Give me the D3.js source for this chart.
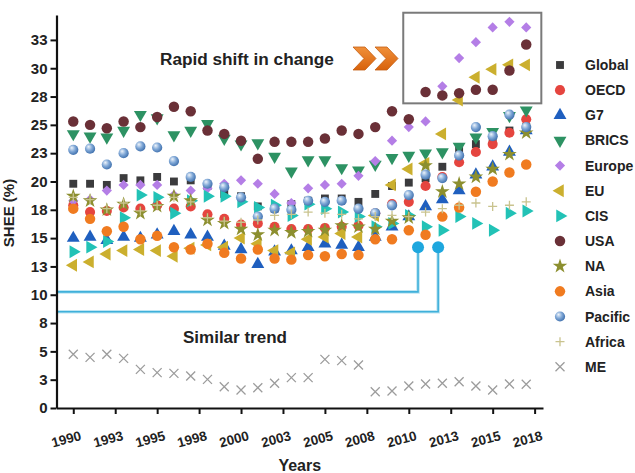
<!DOCTYPE html>
<html>
<head>
<meta charset="utf-8">
<script src="https://cdn.jsdelivr.net/npm/d3@7"></script>
<style>
  html, body { margin: 0; padding: 0; background: #fff; }
  svg { display: block; }
  text { font-family: "Liberation Sans", Arial, Helvetica, sans-serif; font-weight: bold; fill: #222; }
</style>
</head>
<body>
<svg id="chart" width="635" height="473"></svg>
<script>
// ---- data ---------------------------------------------------------------
const years = d3.range(1990, 2018);

const seriesNames = ["Global", "OECD", "G7", "BRICS", "Europe", "EU", "CIS", "USA", "NA", "Asia", "Pacific", "Africa", "ME"];

const globalVals  = [19.8, 19.8, 19.7, 20.3, 20.1, 20.4, 20.0, 20.1, 19.6, 18.9, 18.7, 17.8, 17.6, 18.0, 18.3, 18.5, 18.5, 18.2, 18.9, 19.6, 19.9, 20.3, 21.3, 22.7, 23.3, 23.5, 24.5, 24.8];
const oecdVals    = [17.9, 17.3, 17.4, 17.7, 17.6, 17.9, 17.6, 17.8, 17.1, 16.7, 16.2, 16.3, 16.0, 15.8, 15.8, 15.9, 16.0, 16.1, 17.2, 18.0, 18.2, 19.6, 20.4, 21.7, 22.6, 23.3, 24.3, 25.5];
const g7Vals      = [15.0, 15.1, 14.8, 15.1, 15.0, 15.3, 15.6, 15.3, 15.1, 14.3, 14.0, 12.7, 13.8, 13.9, 14.2, 14.5, 14.4, 14.2, 15.1, 16.0, 16.9, 17.8, 18.4, 19.2, 20.6, 21.3, 22.6, 24.5];
const bricsVals   = [24.2, 24.0, 23.9, 24.5, 25.9, 25.6, 24.1, 24.5, 25.1, 23.8, 23.3, 23.4, 22.2, 20.9, 21.9, 21.9, 21.2, 21.0, 21.5, 22.1, 22.3, 22.5, 22.6, 23.1, 23.9, 24.4, 25.8, 26.3];
const europeVals  = [18.3, 18.4, 19.2, 19.7, 19.7, 19.7, 18.8, 19.2, 19.4, 19.8, 20.1, 19.8, 18.9, 18.1, 19.4, 19.7, 19.8, 20.5, 21.8, 23.6, 24.8, 25.3, 28.4, 30.9, 32.3, 33.6, 34.1, 33.6];
const euVals      = [12.6, 12.9, 13.6, 13.9, 14.0, 13.9, 13.4, 14.1, 14.4, 14.2, 15.0, 14.5, 13.9, 13.7, 14.9, 15.1, 15.4, 15.1, 17.0, 19.7, 21.1, 21.6, 24.2, 27.2, 29.2, 29.9, 30.3, 30.3];
const cisVals     = [13.8, 14.2, 14.7, 16.8, 18.8, 18.6, 17.2, 18.3, 18.7, 18.7, 18.2, 17.7, 17.9, 17.0, 18.0, 17.6, 17.3, 16.9, 16.0, 16.3, 17.0, 16.0, 15.7, 16.9, 16.3, 15.7, 17.2, 17.4];
const usaVals     = [25.3, 25.0, 24.7, 25.3, 24.8, 25.7, 26.6, 26.2, 24.5, 24.2, 23.6, 22.0, 23.5, 23.5, 23.5, 23.8, 24.5, 24.2, 24.8, 26.2, 25.5, 27.9, 27.6, 27.8, 28.1, 28.1, 29.8, 32.1];
const naVals      = [18.7, 18.3, 17.5, 18.0, 17.2, 17.8, 18.7, 18.3, 16.6, 16.3, 15.8, 15.3, 15.7, 15.5, 15.6, 15.7, 16.1, 16.0, 15.8, 16.5, 16.8, 21.4, 19.1, 19.8, 20.4, 21.1, 22.4, 24.3];
const asiaVals    = [17.6, 16.7, 15.6, 16.0, 14.9, 15.2, 14.2, 14.0, 14.5, 13.7, 13.2, 14.0, 13.2, 13.1, 13.5, 13.4, 13.6, 13.5, 14.9, 14.9, 15.7, 15.3, 16.9, 17.7, 19.1, 20.0, 20.8, 21.5];
const pacificVals = [22.8, 22.9, 21.5, 22.5, 23.1, 23.0, 21.8, 20.4, 19.8, 19.5, 18.6, 16.9, 17.6, 17.5, 18.3, 18.2, 18.3, 17.6, 17.2, 17.9, 18.8, 20.6, 20.3, 22.3, 24.8, 24.0, 25.9, 24.8];
const africaVals  = [18.6, 18.4, 17.6, 18.1, 17.4, 17.9, 18.6, 18.2, 16.8, 16.5, 16.4, 16.6, 17.0, 17.1, 17.3, 17.2, 17.1, 16.7, 16.9, 17.0, 16.9, 17.3, 17.6, 17.9, 18.1, 17.8, 17.9, 18.2];
const meVals      = [4.74, 4.47, 4.74, 4.38, 3.41, 3.12, 3.06, 2.82, 2.53, 1.88, 1.59, 1.79, 2.18, 2.68, 2.68, 4.29, 4.18, 3.79, 1.44, 1.50, 1.94, 2.12, 2.18, 2.32, 1.94, 1.59, 2.12, 2.09];

const yTickValues = [0, 2.5, 5, 7.5, 10, 12.5, 15, 17.5, 20, 22.5, 25, 27.5, 30, 32.5];
const yTickLabels = ["0", "3", "5", "8", "10", "13", "15", "18", "20", "23", "25", "28", "30", "33"];
const xTickValues = [1990, 1992.5, 1995, 1997.5, 2000, 2002.5, 2005, 2007.5, 2010, 2012.5, 2015, 2017.5];
const xTickLabels = ["1990", "1993", "1995", "1998", "2000", "2003", "2005", "2008", "2010", "2013", "2015", "2018"];

// highlighted window and the two call-outs
const highlightYears = [2009.67, 2017.9];
const highlightRange = [26.9, 34.9];
const calloutYears = [2010.55, 2011.75];
const calloutLevels = [10.25, 8.5];
const calloutDot = 14.2;

// ---- styling per series ------------------------------------------------
const valuesByName = {
  Global: globalVals, OECD: oecdVals, G7: g7Vals, BRICS: bricsVals, Europe: europeVals,
  EU: euVals, CIS: cisVals, USA: usaVals, NA: naVals, Asia: asiaVals,
  Pacific: pacificVals, Africa: africaVals, ME: meVals
};

const style = {
  Global:  { type: d3.symbolSquare,   size: 62, rot: 0,   fill: "#3b3b3d" },
  OECD:    { type: d3.symbolCircle,   size: 80, rot: 0,   fill: "#e5453f" },
  G7:      { type: d3.symbolTriangle, size: 72, rot: 0,   fill: "#1f5fbf" },
  BRICS:   { type: d3.symbolTriangle, size: 72, rot: 180, fill: "#2d9263" },
  Europe:  { type: d3.symbolSquare,   size: 52, rot: 45,  fill: "#b47ee6" },
  EU:      { type: d3.symbolTriangle, size: 72, rot: -90, fill: "#cbaf2e" },
  CIS:     { type: d3.symbolTriangle, size: 72, rot: 90,  fill: "#22c2b6" },
  USA:     { type: d3.symbolCircle,   size: 86, rot: 0,   fill: "#6a3037" },
  NA:      { type: d3.symbolStar,     size: 66, rot: 0,   fill: "#8c8f2f" },
  Asia:    { type: d3.symbolCircle,   size: 86, rot: 0,   fill: "#f07b20" },
  Pacific: { type: d3.symbolCircle,   size: 82, rot: 0,   fill: "url(#pacificGrad)" },
  Africa:  { type: "plus",  stroke: "#c9c38e" },
  ME:      { type: "cross", stroke: "#9c9c9c" }
};

// ---- layout --------------------------------------------------------------
const svg = d3.select("#chart");
const x = d3.scaleLinear().domain([1989, 2018]).range([56.5, 543]);
const y = d3.scaleLinear().domain([0, 34.7]).range([408, 15]);

const defs = svg.append("defs");
const grad = defs.append("radialGradient").attr("id", "pacificGrad")
  .attr("cx", "40%").attr("cy", "40%").attr("r", "60%").attr("fx", "35%").attr("fy", "30%");
grad.append("stop").attr("offset", "0%").attr("stop-color", "#eef4fb");
grad.append("stop").attr("offset", "55%").attr("stop-color", "#7fa7d6");
grad.append("stop").attr("offset", "100%").attr("stop-color", "#4474b0");

const chevGrad = defs.append("linearGradient").attr("id", "chevGrad")
  .attr("x1", "0").attr("y1", "0").attr("x2", "0").attr("y2", "1");
chevGrad.append("stop").attr("offset", "0%").attr("stop-color", "#f0903a");
chevGrad.append("stop").attr("offset", "100%").attr("stop-color", "#d8620c");

// marker drawing helper
function drawMarker(g, name, cx, cy) {
  const s = style[name];
  if (s.type === "plus" || s.type === "cross") {
    const a = 4.5;
    const p = s.type === "plus"
      ? `M${cx - a},${cy}L${cx + a},${cy}M${cx},${cy - a}L${cx},${cy + a}`
      : `M${cx - a},${cy - a}L${cx + a},${cy + a}M${cx - a},${cy + a}L${cx + a},${cy - a}`;
    g.append("path").attr("d", p).attr("stroke", s.stroke).attr("stroke-width", 1.3).attr("fill", "none");
  } else {
    g.append("path")
      .attr("d", d3.symbol().type(s.type).size(s.size)())
      .attr("transform", `translate(${cx},${cy}) rotate(${s.rot})`)
      .attr("fill", s.fill);
  }
}

// ---- call-out lines (drawn beneath the markers) ---------------------------
const callouts = svg.append("g").attr("class", "callouts");
calloutYears.forEach((yr, i) => {
  const px = x(yr), py = y(calloutLevels[i]);
  callouts.append("path")
    .attr("d", `M${x(1989)},${py}H${px}V${y(calloutDot)}`)
    .attr("fill", "none").attr("stroke", "#bfe6f3").attr("stroke-width", 3.6);
  callouts.append("path")
    .attr("d", `M${x(1989)},${py}H${px}V${y(calloutDot)}`)
    .attr("fill", "none").attr("stroke", "#3fb0da").attr("stroke-width", 1.6);
  callouts.append("circle").attr("cx", px).attr("cy", y(calloutDot)).attr("r", 6)
    .attr("fill", "#1ea7de");
});

// ---- highlighted window -------------------------------------------------
svg.append("rect")
  .attr("x", x(highlightYears[0])).attr("y", y(highlightRange[1]))
  .attr("width", x(highlightYears[1]) - x(highlightYears[0]))
  .attr("height", y(highlightRange[0]) - y(highlightRange[1]))
  .attr("fill", "none").attr("stroke", "#7a7a7a").attr("stroke-width", 2);

// ---- data markers --------------------------------------------------------
const marks = svg.append("g").attr("class", "marks");
seriesNames.forEach(name => {
  const g = marks.append("g").attr("class", "series-" + name);
  valuesByName[name].forEach((v, i) => drawMarker(g, name, x(years[i]), y(v)));
});

// ---- axes ----------------------------------------------------------------
const yAxis = svg.append("g").attr("transform", `translate(${x(1989)},0)`)
  .call(d3.axisLeft(y).tickValues(yTickValues).tickFormat((d, i) => yTickLabels[i]).tickSize(6).tickSizeOuter(0).tickPadding(3));
const xAxis = svg.append("g").attr("transform", `translate(0,${y(0)})`)
  .call(d3.axisBottom(x).tickValues(xTickValues).tickFormat("").tickSize(6).tickSizeOuter(0));

[yAxis, xAxis].forEach(a => {
  a.select(".domain").attr("stroke", "#111").attr("stroke-width", 2.2);
  a.selectAll(".tick line").attr("stroke", "#111").attr("stroke-width", 2);
});
yAxis.selectAll(".tick text").style("font-size", "15px").style("font-weight", "bold").attr("fill", "#222")
  .style("font-family", '"Liberation Sans", Arial, sans-serif');

svg.append("g").selectAll("text").data(xTickValues).join("text")
  .attr("transform", d => `translate(${x(d) - 7},${439}) rotate(-15)`)
  .attr("text-anchor", "middle").attr("dy", "0.35em")
  .style("font-size", "13.5px")
  .text((d, i) => xTickLabels[i]);

svg.append("text").attr("x", (x(1989) + x(2018)) / 2).attr("y", 471)
  .attr("text-anchor", "middle").style("font-size", "16px").text("Years");

svg.append("text").attr("transform", `translate(14,213) rotate(-90)`)
  .attr("text-anchor", "middle").style("font-size", "15px").text("SHEE (%)");

// ---- annotations -------------------------------------------------------
svg.append("text").attr("x", 160).attr("y", 65).style("font-size", "17.2px").text("Rapid shift in change");
svg.append("text").attr("x", 183).attr("y", 343).style("font-size", "17px").text("Similar trend");

const chevron = (x0) => `M${x0},47L${x0 + 12},47L${x0 + 23},58.5L${x0 + 12},70L${x0},70L${x0 + 11},58.5Z`;
[353, 375].forEach(x0 => {
  svg.append("path").attr("d", chevron(x0)).attr("fill", "url(#chevGrad)")
    .attr("stroke", "#c45d12").attr("stroke-width", 0.8);
});

// ---- legend ----------------------------------------------------------------
const legend = svg.append("g").attr("class", "legend");
seriesNames.forEach((name, i) => {
  const ly = 65 + i * 25.15;
  drawMarker(legend, name, 560, ly);
  legend.append("text").attr("x", 585).attr("y", ly + 5).style("font-size", "14px").text(name);
});
</script>
</body>
</html>
